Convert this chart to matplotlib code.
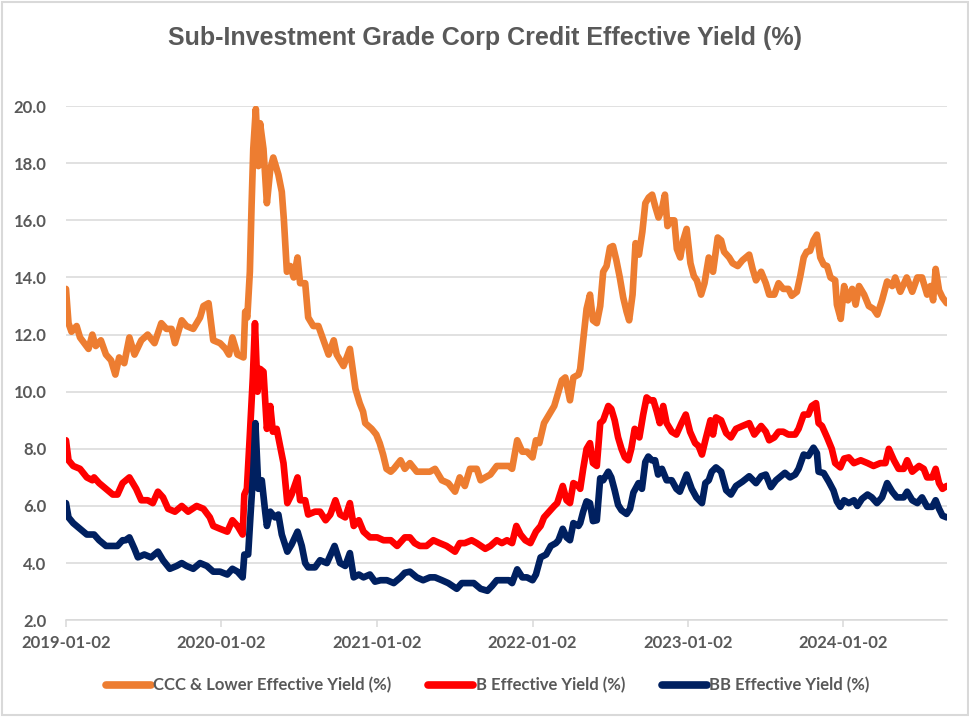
import matplotlib
matplotlib.use("Agg")
import matplotlib.pyplot as plt
import pandas as pd
from matplotlib.patches import Rectangle

title = "Sub-Investment Grade Corp Credit Effective Yield (%)"
series_names = ["CCC & Lower Effective Yield (%)", "B Effective Yield (%)", "BB Effective Yield (%)"]
series_colors = ["#ED7D31", "#FF0000", "#002060"]
x_tick_labels = ["2019-01-02", "2020-01-02", "2021-01-02", "2022-01-02", "2023-01-02", "2024-01-02"]
y_ticks = [2.0, 4.0, 6.0, 8.0, 10.0, 12.0, 14.0, 16.0, 18.0, 20.0]
x_start, x_end = "2019-01-02", "2024-09-01"

ccc_dates = [
    "2019-01-02", "2019-01-08", "2019-01-15", "2019-01-27", "2019-02-04", "2019-02-24", "2019-03-05", "2019-03-13",
    "2019-03-25", "2019-04-06", "2019-04-18", "2019-04-28", "2019-05-07", "2019-05-19", "2019-05-31", "2019-06-12",
    "2019-06-28", "2019-07-13", "2019-07-29", "2019-08-14", "2019-08-26", "2019-09-07", "2019-09-15", "2019-10-01",
    "2019-10-12", "2019-10-28", "2019-11-13", "2019-11-21", "2019-12-03", "2019-12-14", "2019-12-30", "2020-01-12",
    "2020-01-20", "2020-01-28", "2020-02-09", "2020-02-23", "2020-02-27", "2020-03-03", "2020-03-09", "2020-03-13",
    "2020-03-17", "2020-03-23", "2020-03-29", "2020-04-02", "2020-04-10", "2020-04-18", "2020-04-26", "2020-05-03",
    "2020-05-15", "2020-05-23", "2020-05-28", "2020-06-04", "2020-06-12", "2020-06-20", "2020-06-29", "2020-07-05",
    "2020-07-17", "2020-07-24", "2020-08-05", "2020-08-17", "2020-08-29", "2020-09-10", "2020-09-22", "2020-09-29",
    "2020-10-15", "2020-10-30", "2020-11-12", "2020-11-22", "2020-11-30", "2020-12-05", "2020-12-20", "2020-12-31",
    "2021-01-08", "2021-01-16", "2021-01-24", "2021-02-03", "2021-02-10", "2021-02-26", "2021-03-08", "2021-03-20",
    "2021-04-05", "2021-04-20", "2021-05-06", "2021-05-18", "2021-06-03", "2021-06-18", "2021-07-04", "2021-07-15",
    "2021-07-27", "2021-08-08", "2021-08-24", "2021-09-02", "2021-09-13", "2021-09-25", "2021-10-10", "2021-10-26",
    "2021-11-07", "2021-11-15", "2021-11-27", "2021-12-09", "2021-12-20", "2022-01-02", "2022-01-10", "2022-01-18",
    "2022-01-29", "2022-02-10", "2022-02-22", "2022-03-04", "2022-03-12", "2022-03-20", "2022-03-31", "2022-04-08",
    "2022-04-20", "2022-04-24", "2022-05-01", "2022-05-09", "2022-05-17", "2022-05-24", "2022-06-02", "2022-06-10",
    "2022-06-17", "2022-06-25", "2022-07-03", "2022-07-10", "2022-07-18", "2022-07-26", "2022-08-03", "2022-08-11",
    "2022-08-17", "2022-08-25", "2022-09-01", "2022-09-09", "2022-09-17", "2022-09-24", "2022-10-02", "2022-10-10",
    "2022-10-17", "2022-10-25", "2022-11-02", "2022-11-09", "2022-11-15", "2022-11-23", "2022-12-01", "2022-12-07",
    "2022-12-15", "2022-12-22", "2022-12-30", "2023-01-08", "2023-01-16", "2023-01-23", "2023-02-02", "2023-02-10",
    "2023-02-20", "2023-03-02", "2023-03-13", "2023-03-21", "2023-03-28", "2023-04-09", "2023-04-17", "2023-04-29",
    "2023-05-10", "2023-05-26", "2023-06-03", "2023-06-11", "2023-06-23", "2023-07-04", "2023-07-12", "2023-07-24",
    "2023-08-03", "2023-08-14", "2023-08-26", "2023-09-03", "2023-09-15", "2023-09-23", "2023-10-01", "2023-10-08",
    "2023-10-16", "2023-10-24", "2023-11-01", "2023-11-09", "2023-11-17", "2023-11-25", "2023-12-03", "2023-12-14",
    "2023-12-18", "2023-12-27", "2024-01-04", "2024-01-13", "2024-01-23", "2024-01-31", "2024-02-08", "2024-02-20",
    "2024-03-02", "2024-03-13", "2024-03-22", "2024-04-02", "2024-04-14", "2024-04-26", "2024-05-03", "2024-05-15",
    "2024-05-30", "2024-06-12", "2024-06-24", "2024-07-05", "2024-07-17", "2024-07-25", "2024-07-31", "2024-08-06",
    "2024-08-14", "2024-08-22", "2024-09-01",
]
ccc_vals = [
    13.6, 12.4, 12.1, 12.3, 11.9, 11.5, 12.0, 11.6,
    11.8, 11.3, 11.1, 10.6, 11.2, 11.0, 11.9, 11.3,
    11.8, 12.0, 11.7, 12.4, 12.2, 12.2, 11.7, 12.5,
    12.3, 12.2, 12.6, 13.0, 13.1, 11.8, 11.7, 11.5,
    11.3, 11.9, 11.3, 11.2, 12.8, 12.6, 14.2, 16.5,
    18.5, 19.9, 17.9, 19.4, 18.5, 16.6, 17.8, 18.2,
    17.6, 17.0, 16.0, 14.2, 14.4, 14.0, 14.7, 13.8,
    13.8, 12.6, 12.3, 12.3, 11.8, 11.3, 11.8, 11.3,
    10.9, 11.5, 10.1, 9.6, 9.3, 8.9, 8.7, 8.5,
    8.2, 7.8, 7.3, 7.2, 7.3, 7.6, 7.3, 7.5,
    7.2, 7.2, 7.2, 7.3, 6.9, 6.8, 6.5, 7.0,
    6.7, 7.3, 7.3, 6.9, 7.0, 7.1, 7.4, 7.4,
    7.4, 7.3, 8.3, 7.9, 7.9, 7.7, 8.3, 8.2,
    8.9, 9.2, 9.5, 10.0, 10.4, 10.5, 9.7, 10.5,
    10.6, 10.8, 11.8, 12.9, 13.4, 12.5, 12.4, 13.0,
    14.2, 14.4, 15.05, 15.1, 14.6, 14.0, 13.3, 12.8,
    12.5, 13.4, 15.2, 14.8, 15.6, 16.6, 16.8, 16.9,
    16.5, 16.1, 16.4, 16.9, 15.8, 16.0, 16.0, 15.0,
    14.7, 15.3, 15.7, 14.5, 14.05, 13.9, 13.4, 13.8,
    14.7, 14.2, 15.4, 15.3, 14.9, 14.7, 14.5, 14.4,
    14.6, 14.8, 14.3, 13.9, 14.2, 13.8, 13.4, 13.4,
    13.8, 13.6, 13.6, 13.36, 13.5, 14.05, 14.7, 14.9,
    14.93, 15.3, 15.5, 14.7, 14.45, 14.4, 14.0, 13.9,
    13.05, 12.55, 13.7, 13.2, 13.6, 13.05, 13.7, 13.4,
    13.0, 12.9, 12.7, 13.2, 13.86, 13.7, 14.0, 13.5,
    14.0, 13.5, 14.0, 14.0, 13.4, 13.7, 13.2, 14.3,
    13.55, 13.3, 13.1,
]

b_dates = [
    "2019-01-02", "2019-01-08", "2019-01-19", "2019-02-04", "2019-02-20", "2019-03-05", "2019-03-09", "2019-03-21",
    "2019-04-06", "2019-04-22", "2019-05-03", "2019-05-15", "2019-05-31", "2019-06-16", "2019-06-28", "2019-07-13",
    "2019-07-25", "2019-08-06", "2019-08-18", "2019-08-30", "2019-09-15", "2019-10-01", "2019-10-16", "2019-11-05",
    "2019-11-21", "2019-12-06", "2019-12-14", "2019-12-30", "2020-01-16", "2020-01-28", "2020-02-09", "2020-02-21",
    "2020-02-25", "2020-03-02", "2020-03-09", "2020-03-16", "2020-03-21", "2020-03-27", "2020-04-02", "2020-04-10",
    "2020-04-18", "2020-04-26", "2020-05-02", "2020-05-11", "2020-05-19", "2020-05-27", "2020-06-05", "2020-06-15",
    "2020-06-29", "2020-07-05", "2020-07-17", "2020-07-24", "2020-08-09", "2020-08-21", "2020-09-03", "2020-09-14",
    "2020-09-26", "2020-10-07", "2020-10-19", "2020-10-30", "2020-11-08", "2020-11-20", "2020-12-01", "2020-12-16",
    "2021-01-02", "2021-01-17", "2021-02-03", "2021-02-18", "2021-03-08", "2021-03-20", "2021-03-31", "2021-04-12",
    "2021-04-28", "2021-05-14", "2021-05-29", "2021-06-14", "2021-07-04", "2021-07-15", "2021-07-27", "2021-08-12",
    "2021-08-24", "2021-09-13", "2021-09-25", "2021-10-10", "2021-10-22", "2021-11-03", "2021-11-15", "2021-11-25",
    "2021-12-05", "2021-12-16", "2021-12-28", "2022-01-10", "2022-01-21", "2022-01-29", "2022-02-10", "2022-02-22",
    "2022-03-01", "2022-03-14", "2022-03-23", "2022-03-31", "2022-04-08", "2022-04-20", "2022-04-24", "2022-05-01",
    "2022-05-09", "2022-05-17", "2022-05-24", "2022-06-02", "2022-06-10", "2022-06-17", "2022-06-29", "2022-07-06",
    "2022-07-14", "2022-07-22", "2022-07-30", "2022-08-07", "2022-08-15", "2022-08-22", "2022-08-30", "2022-09-10",
    "2022-09-19", "2022-09-27", "2022-10-05", "2022-10-13", "2022-10-21", "2022-10-28", "2022-11-05", "2022-11-13",
    "2022-11-25", "2022-12-06", "2022-12-18", "2022-12-28", "2023-01-07", "2023-01-19", "2023-01-27", "2023-02-04",
    "2023-02-12", "2023-02-24", "2023-03-02", "2023-03-09", "2023-03-21", "2023-04-02", "2023-04-13", "2023-04-25",
    "2023-05-10", "2023-05-26", "2023-06-07", "2023-06-23", "2023-07-04", "2023-07-12", "2023-07-24", "2023-08-03",
    "2023-08-14", "2023-08-26", "2023-09-11", "2023-09-19", "2023-10-01", "2023-10-12", "2023-10-20", "2023-10-30",
    "2023-11-05", "2023-11-13", "2023-11-25", "2023-12-06", "2023-12-14", "2023-12-26", "2024-01-04", "2024-01-15",
    "2024-01-27", "2024-02-12", "2024-02-28", "2024-03-13", "2024-03-29", "2024-04-10", "2024-04-18", "2024-04-30",
    "2024-05-11", "2024-05-23", "2024-05-31", "2024-06-12", "2024-06-28", "2024-07-09", "2024-07-17", "2024-07-29",
    "2024-08-06", "2024-08-14", "2024-08-22", "2024-09-01",
]
b_vals = [
    8.3, 7.6, 7.4, 7.3, 7.0, 6.9, 7.0, 6.8,
    6.6, 6.4, 6.4, 6.8, 7.0, 6.6, 6.2, 6.2,
    6.1, 6.5, 6.3, 5.9, 5.8, 6.0, 5.8, 6.0,
    5.9, 5.6, 5.3, 5.2, 5.1, 5.5, 5.3, 5.0,
    6.4, 6.6, 8.5, 10.5, 12.4, 10.0, 10.8, 10.7,
    8.7, 9.5, 8.6, 8.7, 8.1, 7.5, 6.1, 6.4,
    7.0, 6.2, 6.2, 5.7, 5.8, 5.8, 5.5, 5.7,
    6.2, 5.7, 5.6, 6.1, 5.3, 5.5, 5.1, 4.9,
    4.9, 4.8, 4.8, 4.6, 4.9, 4.9, 4.7, 4.6,
    4.6, 4.8, 4.7, 4.6, 4.4, 4.7, 4.7, 4.8,
    4.7, 4.5, 4.6, 4.8, 4.7, 4.8, 4.7, 5.3,
    5.0, 4.8, 4.7, 5.1, 5.3, 5.6, 5.8, 6.0,
    6.1, 6.7, 6.2, 6.1, 6.8, 6.7, 6.6, 7.3,
    8.0, 8.2, 7.5, 7.4, 8.9, 9.0, 9.5, 9.4,
    9.0, 8.4, 8.0, 7.7, 7.6, 8.0, 8.7, 8.4,
    9.2, 9.8, 9.7, 9.7, 9.3, 8.9, 9.5, 8.9,
    8.6, 8.5, 8.9, 9.2, 8.6, 8.2, 8.1, 7.8,
    8.3, 9.0, 8.5, 9.1, 9.0, 8.55, 8.4, 8.7,
    8.8, 8.9, 8.5, 8.8, 8.6, 8.3, 8.4, 8.6,
    8.6, 8.5, 8.5, 8.7, 9.2, 9.2, 9.5, 9.6,
    8.9, 8.8, 8.4, 8.0, 7.5, 7.35, 7.66, 7.7,
    7.5, 7.6, 7.5, 7.4, 7.5, 7.5, 8.0, 7.6,
    7.3, 7.3, 7.6, 7.2, 7.4, 7.3, 7.0, 7.0,
    7.3, 6.8, 6.6, 6.7,
]

bb_dates = [
    "2019-01-02", "2019-01-08", "2019-01-19", "2019-02-04", "2019-02-20", "2019-03-09", "2019-03-21", "2019-04-06",
    "2019-04-22", "2019-05-03", "2019-05-15", "2019-05-22", "2019-05-31", "2019-06-12", "2019-06-20", "2019-07-05",
    "2019-07-21", "2019-08-06", "2019-08-18", "2019-09-03", "2019-09-19", "2019-10-01", "2019-10-12", "2019-10-28",
    "2019-11-13", "2019-11-29", "2019-12-14", "2019-12-30", "2020-01-16", "2020-01-28", "2020-02-09", "2020-02-21",
    "2020-02-25", "2020-03-05", "2020-03-11", "2020-03-17", "2020-03-22", "2020-03-29", "2020-04-06", "2020-04-14",
    "2020-04-18", "2020-04-26", "2020-05-07", "2020-05-15", "2020-05-23", "2020-06-05", "2020-06-15", "2020-06-29",
    "2020-07-09", "2020-07-17", "2020-07-24", "2020-08-09", "2020-08-21", "2020-09-06", "2020-09-24", "2020-10-07",
    "2020-10-19", "2020-10-30", "2020-11-08", "2020-11-20", "2020-12-01", "2020-12-16", "2020-12-28", "2021-01-10",
    "2021-01-25", "2021-02-10", "2021-02-26", "2021-03-08", "2021-03-20", "2021-04-05", "2021-04-20", "2021-05-06",
    "2021-05-18", "2021-06-03", "2021-06-18", "2021-07-08", "2021-07-20", "2021-08-05", "2021-08-17", "2021-09-02",
    "2021-09-18", "2021-09-29", "2021-10-10", "2021-10-26", "2021-11-07", "2021-11-15", "2021-11-27", "2021-12-09",
    "2021-12-20", "2022-01-02", "2022-01-10", "2022-01-21", "2022-02-03", "2022-02-14", "2022-02-26", "2022-03-04",
    "2022-03-14", "2022-03-23", "2022-03-31", "2022-04-08", "2022-04-20", "2022-04-24", "2022-05-01", "2022-05-09",
    "2022-05-17", "2022-05-24", "2022-06-02", "2022-06-10", "2022-06-17", "2022-06-29", "2022-07-06", "2022-07-14",
    "2022-07-22", "2022-07-30", "2022-08-11", "2022-08-19", "2022-08-27", "2022-09-08", "2022-09-16", "2022-09-24",
    "2022-10-01", "2022-10-09", "2022-10-17", "2022-10-24", "2022-11-02", "2022-11-13", "2022-11-25", "2022-12-06",
    "2022-12-14", "2022-12-30", "2023-01-11", "2023-01-22", "2023-02-04", "2023-02-12", "2023-02-20", "2023-02-27",
    "2023-03-09", "2023-03-21", "2023-04-02", "2023-04-13", "2023-04-25", "2023-05-10", "2023-05-26", "2023-06-11",
    "2023-06-23", "2023-07-04", "2023-07-16", "2023-07-28", "2023-08-18", "2023-08-30", "2023-09-11", "2023-09-19",
    "2023-10-01", "2023-10-12", "2023-10-24", "2023-11-01", "2023-11-05", "2023-11-17", "2023-11-29", "2023-12-10",
    "2023-12-18", "2023-12-26", "2024-01-04", "2024-01-15", "2024-01-27", "2024-02-04", "2024-02-15", "2024-02-28",
    "2024-03-09", "2024-03-21", "2024-04-02", "2024-04-14", "2024-04-26", "2024-05-07", "2024-05-23", "2024-05-31",
    "2024-06-12", "2024-06-24", "2024-07-05", "2024-07-17", "2024-07-29", "2024-08-06", "2024-08-14", "2024-08-22",
    "2024-09-01",
]
bb_vals = [
    6.1, 5.6, 5.4, 5.2, 5.0, 5.0, 4.8, 4.6,
    4.6, 4.6, 4.8, 4.8, 4.9, 4.5, 4.2, 4.3,
    4.2, 4.4, 4.1, 3.8, 3.9, 4.0, 3.9, 3.8,
    4.0, 3.9, 3.7, 3.7, 3.6, 3.8, 3.7, 3.5,
    4.3, 4.3, 5.8, 7.2, 8.9, 6.6, 6.9, 5.8,
    5.3, 5.8, 5.6, 5.7, 5.0, 4.4, 4.65, 5.1,
    4.6, 4.0, 3.85, 3.85, 4.1, 4.0, 4.6, 4.0,
    3.9, 4.35, 3.5, 3.6, 3.5, 3.6, 3.35, 3.4,
    3.4, 3.3, 3.5, 3.66, 3.7, 3.5, 3.4, 3.5,
    3.5, 3.4, 3.3, 3.1, 3.3, 3.3, 3.3, 3.1,
    3.03, 3.2, 3.4, 3.4, 3.4, 3.3, 3.78, 3.5,
    3.5, 3.4, 3.6, 4.2, 4.3, 4.6, 4.7, 4.8,
    5.2, 4.9, 4.8, 5.4, 5.3, 5.4, 5.8, 6.16,
    6.1, 5.47, 5.5, 6.97, 6.9, 7.2, 7.0, 6.55,
    6.04, 5.85, 5.72, 5.9, 6.47, 6.8, 6.6, 7.54,
    7.73, 7.6, 7.6, 7.1, 7.3, 6.9, 6.9, 6.6,
    6.5, 7.1, 6.6, 6.3, 6.1, 6.8, 6.9, 7.2,
    7.35, 7.2, 6.55, 6.4, 6.7, 6.85, 7.04, 6.8,
    7.04, 7.1, 6.66, 6.9, 7.16, 7.0, 7.1, 7.3,
    7.8, 7.75, 8.04, 7.85, 7.2, 7.15, 6.85, 6.54,
    6.16, 5.97, 6.2, 6.1, 6.2, 6.0, 6.25, 6.4,
    6.3, 6.1, 6.3, 6.8, 6.5, 6.3, 6.3, 6.5,
    6.2, 6.1, 6.3, 5.97, 5.97, 6.2, 5.9, 5.66,
    5.6,
]

gray_text = "#595959"
grid_color = "#D9D9D9"
label_font = "Lato"

fig = plt.figure(figsize=(9.70, 7.17), dpi=100)
ax = fig.add_axes([0.068, 0.135, 0.908, 0.717])

all_dates = [ccc_dates, b_dates, bb_dates]
all_vals = [ccc_vals, b_vals, bb_vals]
for d, v, name, col in zip(all_dates, all_vals, series_names, series_colors):
    ax.plot(pd.to_datetime(d), v, color=col, lw=4.8, label=name,
            solid_joinstyle="round", solid_capstyle="round")

ax.set_ylim(y_ticks[0], y_ticks[-1])
ax.set_yticks(y_ticks)
ax.set_yticklabels([f"{t:.1f}" for t in y_ticks])
ax.set_xlim(pd.Timestamp(x_start), pd.Timestamp(x_end))
ax.set_xticks(pd.to_datetime(x_tick_labels))
ax.set_xticklabels(x_tick_labels)

ax.grid(axis="y", color=grid_color, lw=1.1)
ax.set_axisbelow(True)
for s in ["top", "right", "left"]:
    ax.spines[s].set_visible(False)
ax.spines["bottom"].set_color(grid_color)
ax.spines["bottom"].set_linewidth(1.1)
ax.tick_params(axis="y", length=0, pad=14, labelsize=12, labelcolor=gray_text)
ax.tick_params(axis="x", length=5, width=1.1, color=grid_color, pad=6, labelsize=12, labelcolor=gray_text)
for lab in ax.get_xticklabels() + ax.get_yticklabels():
    lab.set_fontfamily(label_font)
    lab.set_fontweight("bold")

fig.text(0.5005, 0.947, title, ha="center", va="center", fontsize=18,
         fontweight="bold", color=gray_text, family="Liberation Sans")

leg = fig.legend(loc="center", bbox_to_anchor=(0.503, 0.044), ncol=3, frameon=False,
                 handlelength=2.7, handletextpad=0.15, columnspacing=2.2,
                 prop={"family": label_font, "weight": "bold", "size": 12})
for t in leg.get_texts():
    t.set_color(gray_text)
for h in leg.get_lines():
    h.set_linewidth(5.5)

fig.patches.append(Rectangle((0.002, 0.003), 0.996, 0.994, transform=fig.transFigure,
                             fill=False, edgecolor="#D9D9D9", lw=1.5))

fig.savefig("out.png", dpi=100, facecolor="white")
